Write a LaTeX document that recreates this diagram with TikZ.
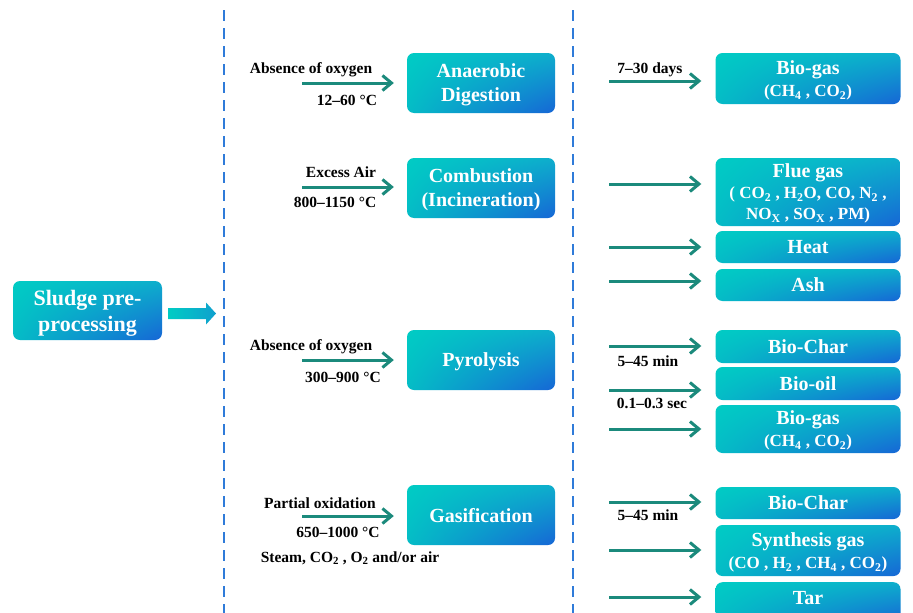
\documentclass[tikz,border=0pt]{standalone}
\usepackage{fontspec}
\setmainfont{Liberation Serif}
\usetikzlibrary{arrows.meta,calc,shadings}
\definecolor{gUL}{HTML}{00CCC4}
\definecolor{gUR}{HTML}{0EAECC}
\definecolor{gLL}{HTML}{05BCC6}
\definecolor{gLR}{HTML}{1666D6}
\definecolor{flowc}{HTML}{1B8A7C}
\definecolor{dashc}{HTML}{2F7BD9}
\newcommand\smf{\fontsize{17}{20}\selectfont}
\begin{document}
\begin{tikzpicture}[x=1pt,y=-1pt,
  box/.style={rounded corners=7pt, inner sep=0pt, text=white, align=center,
    font=\bfseries\fontsize{20}{24}\selectfont, text depth=0pt,
    upper left=gUL, upper right=gUR, lower left=gLL, lower right=gLR},
  proc/.style={box, minimum width=148pt, minimum height=60pt},
  prod/.style={box, minimum width=185pt},
  flow/.style={draw=flowc, line width=3pt, -{Straight Barb[length=9pt,width=15pt,line width=3pt]}},
  lab/.style={inner sep=0pt, font=\bfseries\fontsize{15.5}{18}\selectfont, text=black},
  sep/.style={draw=dashc, line width=2.5pt, dash pattern=on 11pt off 7pt}]
\useasboundingbox (0,0) rectangle (913,613);
\fill[white] (0,0) rectangle (913,613);

% dashed separators
\coordinate (d1t) at (224,10); \coordinate (d1b) at (224,613);
\coordinate (d2t) at (573,10); \coordinate (d2b) at (573,613);
\draw[sep] (d1t) -- (d1b);
\draw[sep] (d2t) -- (d2b);

% sludge
\node[box, minimum width=149pt, minimum height=59pt, font=\bfseries\fontsize{22}{26}\selectfont] (sl) at (87.5,310.5) {Sludge pre-\\processing};
\coordinate (sa) at ($(sl.east)+(6,3)$);
\coordinate (sb) at (216,313.5);
\shade[left color=gUL, right color=gUR!80!gLR]
  ($(sa)+(0,-5.5)$) -- ($(sb)+(-10,-5.5)$) -- ($(sb)+(-10,-11)$) -- (sb) --
  ($(sb)+(-10,11)$) -- ($(sb)+(-10,5.5)$) -- ($(sa)+(0,5.5)$) -- cycle;

% process boxes
\node[proc] (ad) at (481,83) {Anaerobic\\Digestion};
\node[proc] (cb) at (481,188) {Combustion\\(Incineration)};
\node[proc] (py) at (481,360) {Pyrolysis};
\node[proc] (gs) at (481,515) {Gasification};

% input arrows
\coordinate (i1) at (302,83);
\coordinate (i2) at (302,187);
\coordinate (i3) at (302,360);
\coordinate (i4) at (302,516);
\draw[flow] (i1) -- ([xshift=-13pt]i1 -| ad.west);
\draw[flow] (i2) -- ([xshift=-13pt]i2 -| cb.west);
\draw[flow] (i3) -- ([xshift=-13pt]i3 -| py.west);
\draw[flow] (i4) -- ([xshift=-13pt]i4 -| gs.west);

\node[lab] (l1a) at (311,70) {Absence of oxygen};
\node[lab] (l1b) at (347,100) {12–60 °C};
\node[lab] (l2a) at (341,172) {Excess Air};
\node[lab] (l2b) at (335,202) {800–1150 °C};
\node[lab] (l3a) at (311,347) {Absence of oxygen};
\node[lab] (l3b) at (343,377) {300–900 °C};
\node[lab] (l4a) at (320,503) {Partial oxidation};
\node[lab] (l4b) at (338,532) {650–1000 °C};
\node[lab] (l4c) at (350,558) {Steam, CO\textsubscript{2} , O\textsubscript{2} and/or air};

% product boxes
\node[prod, minimum height=51pt] (bg1) at (808,78.5) {Bio-gas\\[-2pt]{\smf (CH\textsubscript{4} , CO\textsubscript{2})}};
\node[prod, minimum height=68pt] (fg) at (808,192) {Flue gas\\[-3pt]{\smf ( CO\textsubscript{2} , H\textsubscript{2}O, CO, N\textsubscript{2} ,}\\[-3pt]{\smf NO\textsubscript{X} , SO\textsubscript{X} , PM)}};
\node[prod, minimum height=32pt] (ht) at (808,247) {Heat};
\node[prod, minimum height=32pt] (ash) at (808,285) {Ash};
\node[prod, minimum height=33pt] (bc1) at (808,346.5) {Bio-Char};
\node[prod, minimum height=33pt] (bo) at (808,383.5) {Bio-oil};
\node[prod, minimum height=48pt] (bg2) at (808,429) {Bio-gas\\[-2pt]{\smf (CH\textsubscript{4} , CO\textsubscript{2})}};
\node[prod, minimum height=32pt] (bc2) at (808,503) {Bio-Char};
\node[prod, minimum height=51pt] (syn) at (808,550.5) {Synthesis gas\\[-2pt]{\smf (CO , H\textsubscript{2} , CH\textsubscript{4} , CO\textsubscript{2})}};
\node[prod, minimum height=40pt, anchor=north] (tar) at (808,582) {\raisebox{8pt}{Tar}};

% output arrows
\coordinate (o1) at (609,81);
\coordinate (o2) at (609,184);
\coordinate (o3) at (609,247);
\coordinate (o4) at (609,281);
\coordinate (o5) at (609,346);
\coordinate (o6) at (609,390);
\coordinate (o7) at (609,429);
\coordinate (o8) at (609,502);
\coordinate (o9) at (609,550);
\coordinate (o10) at (609,597);
\draw[flow] (o1) -- ([xshift=-14pt]o1 -| bg1.west);
\draw[flow] (o2) -- ([xshift=-14pt]o2 -| fg.west);
\draw[flow] (o3) -- ([xshift=-14pt]o3 -| ht.west);
\draw[flow] (o4) -- ([xshift=-14pt]o4 -| ash.west);
\draw[flow] (o5) -- ([xshift=-14pt]o5 -| bc1.west);
\draw[flow] (o6) -- ([xshift=-14pt]o6 -| bo.west);
\draw[flow] (o7) -- ([xshift=-14pt]o7 -| bg2.west);
\draw[flow] (o8) -- ([xshift=-14pt]o8 -| bc2.west);
\draw[flow] (o9) -- ([xshift=-14pt]o9 -| syn.west);
\draw[flow] (o10) -- ([xshift=-14pt]o10 -| tar.west);

\node[lab] (r1) at (650,70) {7–30 days};
\node[lab] (r5) at (648,361) {5–45 min};
\node[lab] (r6) at (652,403) {0.1–0.3 sec};
\node[lab] (r8) at (648,515) {5–45 min};
\end{tikzpicture}
\end{document}
